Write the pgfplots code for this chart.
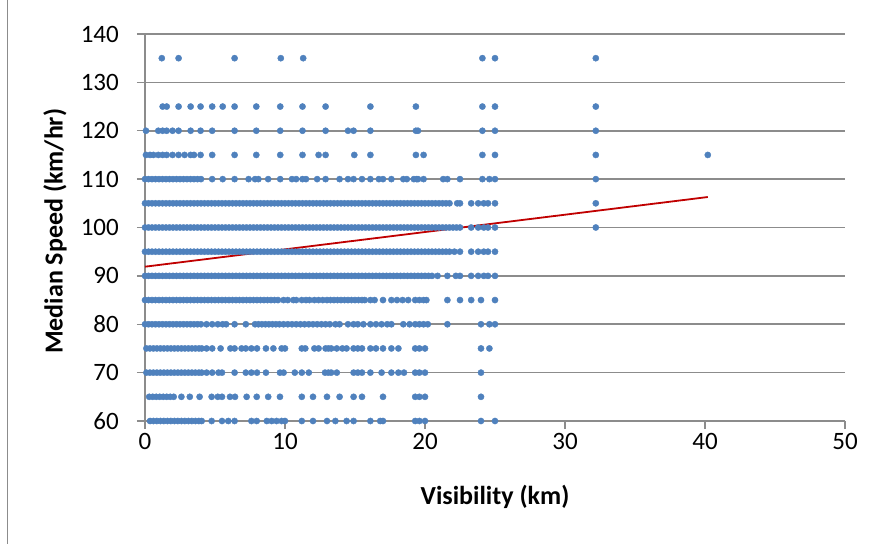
\documentclass[border=0pt]{standalone}
\usepackage{pgfplots}
\pgfplotsset{compat=1.18}
\usepackage{fontspec}
\setmainfont{Carlito}
\definecolor{dotblue}{HTML}{4F81BD}
\definecolor{trendred}{HTML}{C00000}
\definecolor{gridgray}{HTML}{8C8C8C}
\begin{document}
\begin{tikzpicture}
\path[use as bounding box] (-145pt,-123pt) rectangle (734pt,421pt);
\draw[gridgray, line width=1pt] (-137pt,-123pt) -- (-137pt,421pt);
\begin{axis}[
  at={(0pt,0pt)}, anchor=south west,
  scale only axis, width=700pt, height=387pt,
  xmin=0, xmax=50, ymin=60, ymax=140,
  xtick={0,10,20,30,40,50}, ytick={60,70,80,90,100,110,120,130,140},
  axis x line=bottom, axis y line=left,
  axis line style={draw=gridgray, line width=1.6pt, -},
  ymajorgrids, grid style={draw=gridgray, line width=1.6pt},
  tick align=outside, major tick length=8pt,
  tick style={draw=gridgray, line width=1.4pt},
  /pgf/number format/assume math mode=true,
  tick label style={font=\fontsize{25}{29}\selectfont, text=black},
  yticklabel style={inner sep=0pt, anchor=east, xshift=-18pt},
  xticklabel style={inner sep=0pt, anchor=north, yshift=-4pt},
  xlabel={\textbf{Visibility (km)}},
  ylabel={\textbf{Median Speed (km/hr)}},
  label style={font=\fontsize{26}{30}\selectfont},
  xlabel style={at={(axis description cs:0.5,-0.196)}, anchor=center},
  ylabel style={at={(axis description cs:-0.1286,0.49)}, anchor=center},
  clip=false,
  dots/.style={only marks, mark=*, mark size=3.1pt, draw=dotblue, fill=dotblue, mark options={draw=dotblue, fill=dotblue}},
]
% y = 135
\addplot[dots] coordinates {(1.2,135)(2.4,135)(6.4,135)(9.7,135)(11.3,135)(24.1,135)(25.0,135)(32.2,135)};
% y = 125
\addplot[dots] coordinates {(1.26,125)(1.55,125)(2.4,125)(3.26,125)(3.97,125)(4.8,125)(5.55,125)(6.4,125)(7.95,125)(9.66,125)(11.25,125)(12.9,125)(16.1,125)(19.35,125)(24.1,125)(25.0,125)(32.2,125)};
% y = 120
\addplot[dots] coordinates {(0.07,120)(0.95,120)(1.26,120)(1.55,120)(1.97,120)(2.4,120)(3.26,120)(3.97,120)(4.8,120)(6.4,120)(7.95,120)(9.66,120)(11.25,120)(12.9,120)(14.5,120)(14.9,120)(16.1,120)(19.35,120)(19.5,120)(24.1,120)(25.0,120)(32.2,120)};
% y = 115
\addplot[dots] coordinates {(0.07,115)(0.36,115)(0.6,115)(0.95,115)(1.26,115)(1.55,115)(1.97,115)(2.4,115)(2.83,115)(3.26,115)(3.5,115)(3.97,115)(4.8,115)(6.4,115)(7.95,115)(9.66,115)(11.25,115)(12.4,115)(12.9,115)(14.95,115)(16.1,115)(19.35,115)(19.9,115)(24.1,115)(25.0,115)(32.2,115)(40.2,115)};
% y = 110
\addplot[dots] coordinates {(0,110)(0.25,110)(0.5,110)(0.75,110)(1,110)(1.25,110)(1.5,110)(1.75,110)(2,110)(2.25,110)(2.5,110)(2.75,110)(3,110)(3.25,110)(3.5,110)(3.75,110)(4,110)(4.8,110)(5.55,110)(6.4,110)(7.4,110)(7.86,110)(8.1,110)(8.8,110)(9.66,110)(10.5,110)(10.8,110)(11.25,110)(11.5,110)(12.3,110)(12.9,110)(13.9,110)(14.5,110)(14.9,110)(15.5,110)(16.1,110)(16.7,110)(17.0,110)(17.6,110)(18.45,110)(18.7,110)(19.2,110)(19.4,110)(19.5,110)(19.9,110)(21.3,110)(21.6,110)(22.5,110)(24.1,110)(24.6,110)(25.0,110)(32.2,110)};
% y = 105
\addplot[dots] coordinates {(0,105)(0.25,105)(0.5,105)(0.75,105)(1,105)(1.25,105)(1.5,105)(1.75,105)(2,105)(2.25,105)(2.5,105)(2.75,105)(3,105)(3.25,105)(3.5,105)(3.75,105)(4,105)(4.25,105)(4.5,105)(4.75,105)(5,105)(5.25,105)(5.5,105)(5.75,105)(6,105)(6.25,105)(6.5,105)(6.75,105)(7,105)(7.25,105)(7.5,105)(7.75,105)(8,105)(8.25,105)(8.5,105)(8.75,105)(9,105)(9.25,105)(9.5,105)(9.75,105)(10,105)(10.25,105)(10.5,105)(10.75,105)(11,105)(11.25,105)(11.5,105)(11.75,105)(12,105)(12.25,105)(12.5,105)(12.75,105)(13,105)(13.25,105)(13.5,105)(13.75,105)(14,105)(14.25,105)(14.5,105)(14.75,105)(15,105)(15.25,105)(15.5,105)(15.75,105)(16,105)(16.25,105)(16.5,105)(16.75,105)(17,105)(17.25,105)(17.5,105)(17.75,105)(18,105)(18.25,105)(18.5,105)(18.75,105)(19,105)(19.25,105)(19.5,105)(19.75,105)(20,105)(20.25,105)(20.5,105)(20.75,105)(21,105)(21.25,105)(21.5,105)(21.75,105)(22.3,105)(22.5,105)(23.3,105)(23.8,105)(24.2,105)(24.5,105)(25.0,105)(32.2,105)};
% y = 100
\addplot[dots] coordinates {(0,100)(0.25,100)(0.5,100)(0.75,100)(1,100)(1.25,100)(1.5,100)(1.75,100)(2,100)(2.25,100)(2.5,100)(2.75,100)(3,100)(3.25,100)(3.5,100)(3.75,100)(4,100)(4.25,100)(4.5,100)(4.75,100)(5,100)(5.25,100)(5.5,100)(5.75,100)(6,100)(6.25,100)(6.5,100)(6.75,100)(7,100)(7.25,100)(7.5,100)(7.75,100)(8,100)(8.25,100)(8.5,100)(8.75,100)(9,100)(9.25,100)(9.5,100)(9.75,100)(10,100)(10.25,100)(10.5,100)(10.75,100)(11,100)(11.25,100)(11.5,100)(11.75,100)(12,100)(12.25,100)(12.5,100)(12.75,100)(13,100)(13.25,100)(13.5,100)(13.75,100)(14,100)(14.25,100)(14.5,100)(14.75,100)(15,100)(15.25,100)(15.5,100)(15.75,100)(16,100)(16.25,100)(16.5,100)(16.75,100)(17,100)(17.25,100)(17.5,100)(17.75,100)(18,100)(18.25,100)(18.5,100)(18.75,100)(19,100)(19.25,100)(19.5,100)(19.75,100)(20,100)(20.25,100)(20.5,100)(20.75,100)(21,100)(21.25,100)(21.5,100)(21.75,100)(22,100)(22.25,100)(22.5,100)(23.3,100)(23.8,100)(24.2,100)(24.5,100)(25.0,100)(32.2,100)};
% y = 95
\addplot[dots] coordinates {(0,95)(0.25,95)(0.5,95)(0.75,95)(1,95)(1.25,95)(1.5,95)(1.75,95)(2,95)(2.25,95)(2.5,95)(2.75,95)(3,95)(3.25,95)(3.5,95)(3.75,95)(4,95)(4.25,95)(4.5,95)(4.75,95)(5,95)(5.25,95)(5.5,95)(5.75,95)(6,95)(6.25,95)(6.5,95)(6.75,95)(7,95)(7.25,95)(7.5,95)(7.75,95)(8,95)(8.25,95)(8.5,95)(8.75,95)(9,95)(9.25,95)(9.5,95)(9.75,95)(10,95)(10.25,95)(10.5,95)(10.75,95)(11,95)(11.25,95)(11.5,95)(11.75,95)(12,95)(12.25,95)(12.5,95)(12.75,95)(13,95)(13.25,95)(13.5,95)(13.75,95)(14,95)(14.25,95)(14.5,95)(14.75,95)(15,95)(15.25,95)(15.5,95)(15.75,95)(16,95)(16.25,95)(16.5,95)(16.75,95)(17,95)(17.25,95)(17.5,95)(17.75,95)(18,95)(18.25,95)(18.5,95)(18.75,95)(19,95)(19.25,95)(19.5,95)(19.75,95)(20,95)(20.25,95)(20.5,95)(20.75,95)(21,95)(21.25,95)(21.5,95)(21.75,95)(22.1,95)(22.5,95)(23.3,95)(23.8,95)(24.2,95)(24.5,95)(25.0,95)};
% y = 90
\addplot[dots] coordinates {(0,90)(0.25,90)(0.5,90)(0.75,90)(1,90)(1.25,90)(1.5,90)(1.75,90)(2,90)(2.25,90)(2.5,90)(2.75,90)(3,90)(3.25,90)(3.5,90)(3.75,90)(4,90)(4.25,90)(4.5,90)(4.75,90)(5,90)(5.25,90)(5.5,90)(5.75,90)(6,90)(6.25,90)(6.5,90)(6.75,90)(7,90)(7.25,90)(7.5,90)(7.75,90)(8,90)(8.25,90)(8.5,90)(8.75,90)(9,90)(9.25,90)(9.5,90)(9.75,90)(10,90)(10.25,90)(10.5,90)(10.75,90)(11,90)(11.25,90)(11.5,90)(11.75,90)(12,90)(12.25,90)(12.5,90)(12.75,90)(13,90)(13.25,90)(13.5,90)(13.75,90)(14,90)(14.25,90)(14.5,90)(14.75,90)(15,90)(15.25,90)(15.5,90)(15.75,90)(16,90)(16.25,90)(16.5,90)(16.75,90)(17,90)(17.25,90)(17.5,90)(17.75,90)(18,90)(18.25,90)(18.5,90)(18.75,90)(19,90)(19.25,90)(19.5,90)(19.75,90)(20,90)(20.25,90)(20.5,90)(20.9,90)(21.6,90)(22.2,90)(22.5,90)(23.3,90)(23.8,90)(24.2,90)(24.5,90)(25.0,90)};
% y = 85
\addplot[dots] coordinates {(0,85)(0.25,85)(0.5,85)(0.75,85)(1,85)(1.25,85)(1.5,85)(1.75,85)(2,85)(2.25,85)(2.5,85)(2.75,85)(3,85)(3.25,85)(3.5,85)(3.75,85)(4,85)(4.25,85)(4.5,85)(4.75,85)(5,85)(5.25,85)(5.5,85)(5.75,85)(6,85)(6.25,85)(6.5,85)(6.75,85)(7,85)(7.25,85)(7.5,85)(7.75,85)(8,85)(8.25,85)(8.5,85)(8.75,85)(9,85)(9.25,85)(9.5,85)(9.9,85)(10.2,85)(10.6,85)(10.8,85)(11.2,85)(11.5,85)(11.75,85)(12.1,85)(12.4,85)(12.7,85)(13,85)(13.25,85)(13.5,85)(13.75,85)(14,85)(14.25,85)(14.5,85)(14.75,85)(15,85)(15.25,85)(15.5,85)(15.7,85)(16.1,85)(16.4,85)(17.0,85)(17.6,85)(18.0,85)(18.4,85)(18.8,85)(19.3,85)(19.6,85)(19.9,85)(20.1,85)(21.6,85)(22.5,85)(23.3,85)(24.0,85)(25.0,85)};
% y = 80
\addplot[dots] coordinates {(0,80)(0.25,80)(0.5,80)(0.75,80)(1,80)(1.25,80)(1.5,80)(1.75,80)(2,80)(2.25,80)(2.5,80)(2.75,80)(3,80)(3.25,80)(3.5,80)(3.75,80)(4,80)(4.4,80)(4.8,80)(5.2,80)(5.55,80)(5.8,80)(6.4,80)(7.2,80)(7.86,80)(8.1,80)(8.35,80)(8.6,80)(8.85,80)(9.1,80)(9.35,80)(9.6,80)(9.9,80)(10.2,80)(10.5,80)(10.8,80)(11.1,80)(11.4,80)(11.7,80)(12.0,80)(12.3,80)(12.6,80)(12.9,80)(13.2,80)(13.6,80)(13.9,80)(14.5,80)(14.9,80)(15.2,80)(15.6,80)(16.1,80)(16.5,80)(16.9,80)(17.3,80)(17.6,80)(18.45,80)(18.9,80)(19.3,80)(19.6,80)(19.9,80)(20.2,80)(21.6,80)(24.0,80)(24.6,80)(25.0,80)};
% y = 75
\addplot[dots] coordinates {(0.1,75)(0.35,75)(0.6,75)(0.85,75)(1.1,75)(1.35,75)(1.6,75)(1.85,75)(2.1,75)(2.35,75)(2.6,75)(2.85,75)(3.1,75)(3.35,75)(3.6,75)(3.85,75)(4.05,75)(4.4,75)(4.8,75)(5.4,75)(6.1,75)(6.4,75)(6.9,75)(7.2,75)(7.6,75)(8.0,75)(8.64,75)(9.17,75)(9.76,75)(10.0,75)(11.2,75)(11.45,75)(12.1,75)(12.4,75)(12.9,75)(13.1,75)(13.3,75)(13.7,75)(14.1,75)(14.4,75)(14.9,75)(15.2,75)(15.5,75)(16.1,75)(16.5,75)(17.0,75)(17.6,75)(18.1,75)(19.3,75)(19.6,75)(20.0,75)(24.0,75)(24.6,75)};
% y = 70
\addplot[dots] coordinates {(0.1,70)(0.35,70)(0.6,70)(0.85,70)(1.1,70)(1.35,70)(1.6,70)(1.85,70)(2.1,70)(2.35,70)(2.6,70)(2.85,70)(3.1,70)(3.35,70)(3.6,70)(3.85,70)(4.05,70)(4.4,70)(4.8,70)(5.25,70)(5.5,70)(6.4,70)(7.2,70)(7.6,70)(8.0,70)(8.64,70)(9.64,70)(9.9,70)(10.7,70)(11.2,70)(11.7,70)(12.86,70)(13.1,70)(13.3,70)(13.7,70)(14.9,70)(15.2,70)(15.5,70)(16.1,70)(16.9,70)(17.6,70)(18.1,70)(18.5,70)(19.3,70)(19.6,70)(20.0,70)(24.0,70)};
% y = 65
\addplot[dots] coordinates {(0.3,65)(0.55,65)(0.8,65)(1.05,65)(1.3,65)(1.55,65)(1.8,65)(2.05,65)(2.6,65)(3.2,65)(3.9,65)(4.76,65)(5.2,65)(5.5,65)(6.07,65)(6.43,65)(7.26,65)(7.98,65)(8.8,65)(9.64,65)(11.2,65)(12.0,65)(13.0,65)(13.9,65)(14.9,65)(15.5,65)(17.0,65)(19.3,65)(19.6,65)(20.0,65)(24.0,65)};
% y = 60
\addplot[dots] coordinates {(0.36,60)(0.6,60)(0.85,60)(1.1,60)(1.35,60)(1.6,60)(1.85,60)(2.1,60)(2.35,60)(2.6,60)(2.85,60)(3.1,60)(3.35,60)(3.6,60)(3.85,60)(4.05,60)(4.76,60)(5.5,60)(5.95,60)(6.4,60)(7.6,60)(7.98,60)(8.7,60)(9.05,60)(9.4,60)(9.76,60)(10.0,60)(11.2,60)(12.0,60)(13.0,60)(13.6,60)(14.4,60)(14.9,60)(16.1,60)(16.8,60)(17.0,60)(19.3,60)(19.6,60)(20.0,60)(24.0,60)(25.0,60)};
% linear trend
\addplot[trendred, line width=1.8pt, no marks] coordinates {(0,91.9)(40.2,106.3)};
\end{axis}
\end{tikzpicture}
\end{document}
